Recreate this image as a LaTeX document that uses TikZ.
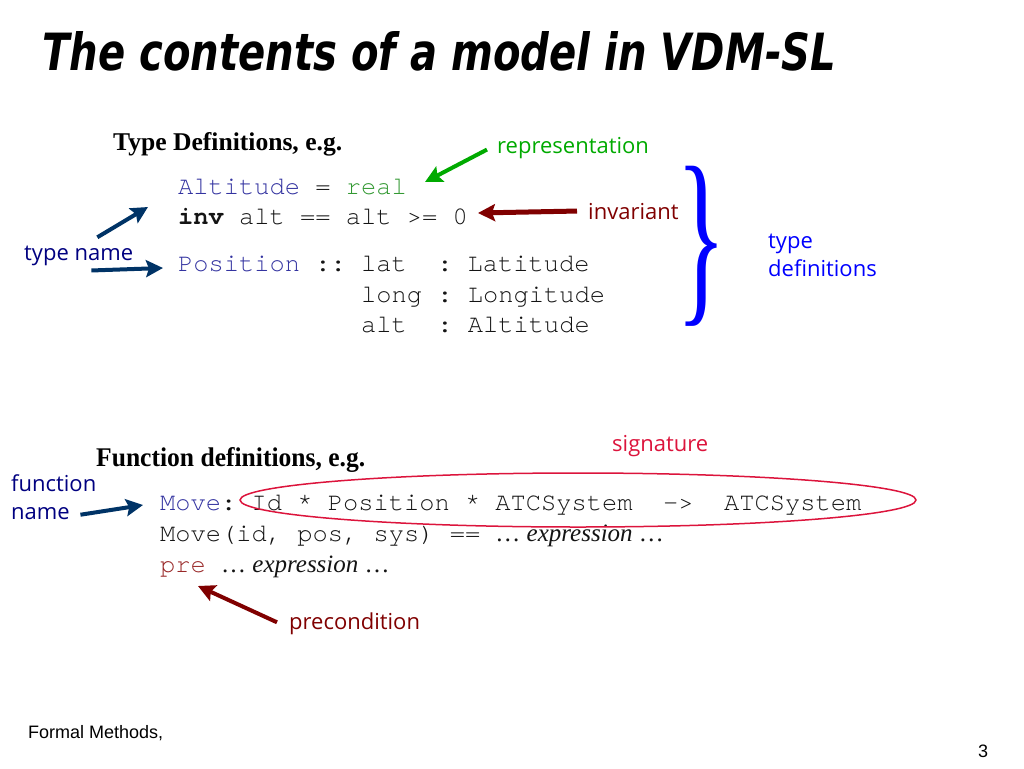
\documentclass[tikz,border=0pt]{standalone}
\usepackage{fontspec}
\usepackage{graphicx}
\setmainfont{Liberation Serif}
\setmonofont{TeX Gyre Cursor}
\newfontfamily\titlefont{DejaVu Sans Bold Oblique}
\newfontfamily\notefont{Open Sans}
\newfontfamily\footfont{Liberation Sans}
\usetikzlibrary{arrows.meta}
\definecolor{codeblue}{RGB}{51,51,160}
\definecolor{realgreen}{RGB}{51,153,51}
\definecolor{prered}{RGB}{153,40,40}
\definecolor{codegray}{RGB}{20,20,20}
\definecolor{reprgreen}{RGB}{0,170,0}
\definecolor{invred}{RGB}{128,0,0}
\definecolor{arrownavy}{RGB}{0,51,102}
\definecolor{namenavy}{RGB}{0,0,128}
\definecolor{sigred}{RGB}{220,20,60}
\definecolor{braceblue}{RGB}{0,0,255}
\tikzset{
  txt/.style={anchor=base west, inner sep=0pt},
  code/.style={txt, text=codegray, font=\ttfamily\fontsize{25.4}{30}\selectfont},
  note/.style={txt, font=\notefont\fontsize{22}{28}\selectfont},
  pointer/.style={line width=4pt, -{Stealth[length=17pt,width=17pt,inset=3pt]}}
}

\begin{document}
\begin{tikzpicture}[x=1pt,y=-1pt]
\useasboundingbox (0,0) rectangle (1024,768);

\node[txt] (title) at (42,70) {\resizebox{794pt}{39pt}{\titlefont The contents of a model in VDM-SL}};

% type definitions
\node[txt] (typehd) at (113,150) {\resizebox{229pt}{18pt}{\bfseries Type Definitions, e.g.}};
\node[code] (alt) at (178,194) {\textcolor{codeblue}{Altitude} = \textcolor{realgreen}{real}};
\node[code] (inv) at (178,224) {\textbf{inv} alt == alt >= 0};
\node[code] (pos) at (178,271) {\textcolor{codeblue}{Position} :: lat\ \ : Latitude};
\node[code] (lng) at (361,302) {long : Longitude};
\node[code] (altf) at (361,332) {alt\ \ : Altitude};
\node[anchor=west, inner sep=0pt, text=braceblue] (brace) at (676,246) {\resizebox*{50pt}{160pt}{\}}};

\node[note, text=reprgreen] (repr) at (497,153) {representation};
\node[note, text=invred] (invl) at (588,219) {invariant};
\node[note, text=namenavy] (tname) at (24,260) {type name};
\node[note, text=braceblue, align=left, anchor=north west] (tdefs) at (768,234) {type\\definitions};

\coordinate (reprtip) at (425,182);
\coordinate (invtip) at (478,213);
\coordinate (alttip) at (148,207);
\coordinate (postip) at (163,268);
\draw[pointer, reprgreen] ([shift={(-10,2)}]repr.west) -- (reprtip);
\draw[pointer, invred, line width=5pt] ([xshift=-11]invl.west) -- (invtip);
\draw[pointer, arrownavy] ([shift={(-36,-8)}]tname.north east) -- (alttip);
\draw[pointer, arrownavy] ([shift={(-42,5)}]tname.south east) -- (postip);

% function definitions
\node[txt] (funhd) at (96,466) {\resizebox{269pt}{19pt}{\bfseries Function definitions, e.g.}};
\node[code] (sig) at (160,510) {\textcolor{codeblue}{Move}: Id * Position * ATCSystem\ \ ->\ \ ATCSystem};
\node[code] (body) at (160,541) {Move(id, pos, sys) == {\rmfamily\fontsize{25}{30}\selectfont … \textit{expression} …}};
\node[code] (pre) at (160,572) {\textcolor{prered}{pre} {\rmfamily\fontsize{25}{30}\selectfont … \textit{expression} …}};
\draw[sigred, line width=1.5pt] (578,500) ellipse [x radius=338, y radius=27];

\node[note, text=sigred] (sigl) at (612,451) {signature};
\node[note, text=namenavy, align=left, anchor=north west] (fname) at (11,474) {function\\name};
\node[note, text=invred] (precl) at (289,629) {precondition};

\coordinate (movetip) at (143,505);
\coordinate (pretip) at (198,586);
\draw[pointer, arrownavy] ([shift={(-16,18)}]fname.east) -- (movetip);
\draw[pointer, invred] ([shift={(-12,-1)}]precl.west) -- (pretip);

\node[txt, font=\footfont\fontsize{18}{20}\selectfont] (foot) at (28,738) {Formal Methods,};
\node[txt, font=\footfont\fontsize{18}{20}\selectfont] (page) at (978,757) {3};
\end{tikzpicture}
\end{document}
